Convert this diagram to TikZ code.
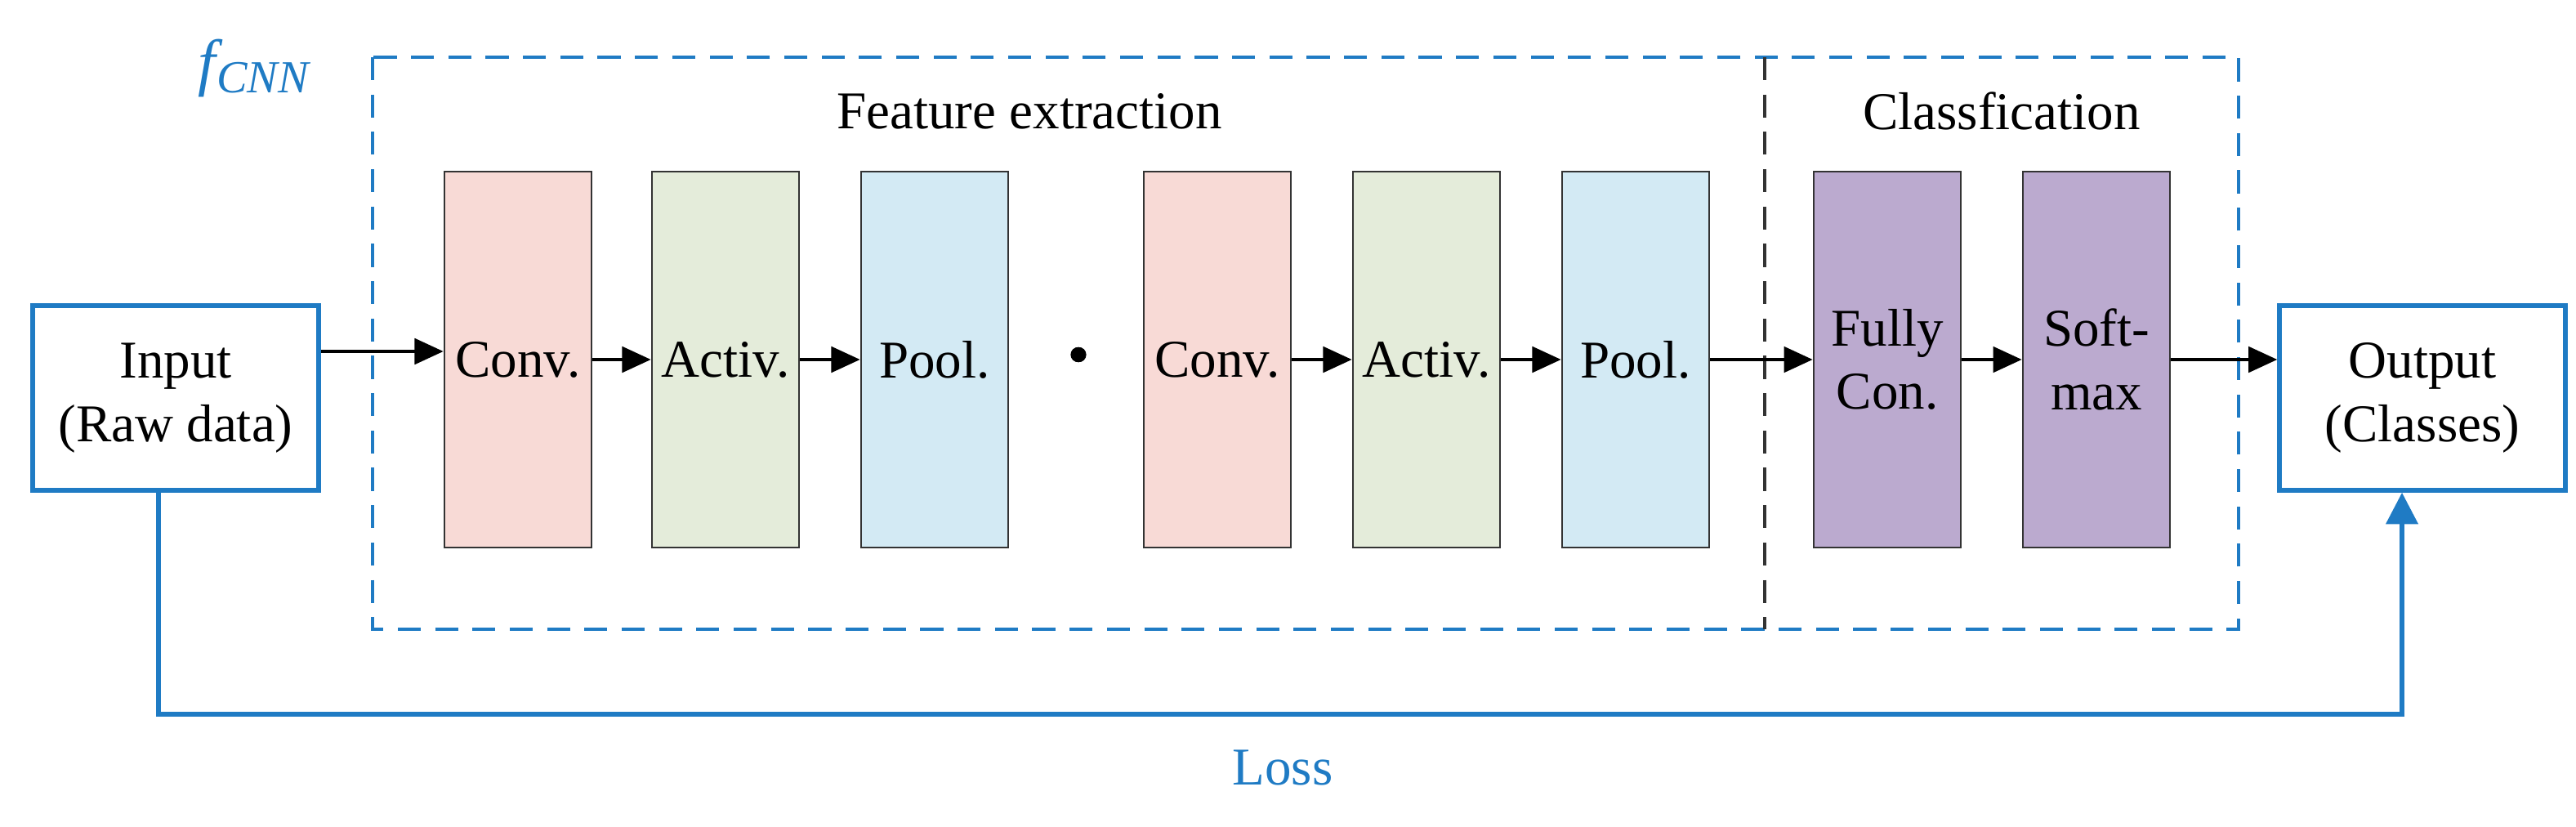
\documentclass[tikz,border=0pt]{standalone}
\usepackage{fontspec}
\setmainfont{Liberation Serif}
\usetikzlibrary{arrows.meta}
\definecolor{lblue}{HTML}{1F7BC4}
\definecolor{cpink}{HTML}{F8DAD6}
\definecolor{cgreen}{HTML}{E4ECDA}
\definecolor{cblue}{HTML}{D3EAF4}
\definecolor{cpurp}{HTML}{BBAACF}
\begin{document}
\begin{tikzpicture}[x=0.02cm,y=-0.02cm,font=\fontsize{18.5}{22}\selectfont,
 blk/.style={draw=black!80,line width=0.8pt,minimum width=1.8cm,minimum height=4.6cm,align=center,inner sep=0},
 io/.style={draw=lblue,line width=1.6pt,minimum width=3.5cm,minimum height=2.26cm,align=center},
 arr/.style={-{Triangle[length=10pt,width=9pt]},line width=0.9pt}]
\useasboundingbox (0,0) rectangle (1576.5,505.5);
\draw[lblue,dashed,line width=1.2pt,dash pattern=on 8pt off 5pt] (228,35) rectangle (1370,385);
\draw[black!80,dashed,line width=0.9pt,dash pattern=on 8pt off 5pt] (1080,35) -- (1080,385);
\node[lblue,font=\fontsize{22}{24}\selectfont\itshape] (f) at (155,42) {f\kern0.5pt\raisebox{-0.3ex}{\fontsize{16}{18}\selectfont CNN}};
\node (fe) at (630,68) {Feature extraction};
\node (cl) at (1225,68) {Classfication};
\node[io] (in) at (107.5,243.5) {Input\\(Raw data)};
\node[io] (out) at (1482.5,243.5) {Output\\(Classes)};
\node[blk,fill=cpink] (c1) at (317,220) {Conv.};
\node[blk,fill=cgreen] (a1) at (444,220) {Activ.};
\node[blk,fill=cblue] (p1) at (572,220) {Pool.};
\node[inner sep=0] (dots) at (660,217) {\tikz{\foreach \i in {0,1,2}{\fill (\i*0.22,0) circle (2.6pt);}}};
\node[blk,fill=cpink] (c2) at (745,220) {Conv.};
\node[blk,fill=cgreen] (a2) at (873,220) {Activ.};
\node[blk,fill=cblue] (p2) at (1001,220) {Pool.};
\node[blk,fill=cpurp] (fc) at (1155,220) {Fully\\Con.};
\node[blk,fill=cpurp] (sm) at (1283,220) {Soft-\\max};
\draw[arr] (in.east|-0,215) -- (c1.west|-0,215);
\draw[arr] (c1.east|-0,220) -- (a1.west|-0,220);
\draw[arr] (a1.east|-0,220) -- (p1.west|-0,220);
\draw[arr] (c2.east|-0,220) -- (a2.west|-0,220);
\draw[arr] (a2.east|-0,220) -- (p2.west|-0,220);
\draw[arr] (p2.east|-0,220) -- (fc.west|-0,220);
\draw[arr] (fc.east|-0,220) -- (sm.west|-0,220);
\draw[arr] (sm.east|-0,220) -- (out.west|-0,220);
\coordinate (l1) at (97,437);
\coordinate (l2) at (1470,437);
\draw[lblue,line width=1.6pt,-{Triangle[length=11pt,width=11pt]}] (in.south-|l1) -- (l1) -- (l2) -- (out.south-|l2);
\node[lblue] (loss) at (785,470) {Loss};
\end{tikzpicture}
\end{document}
